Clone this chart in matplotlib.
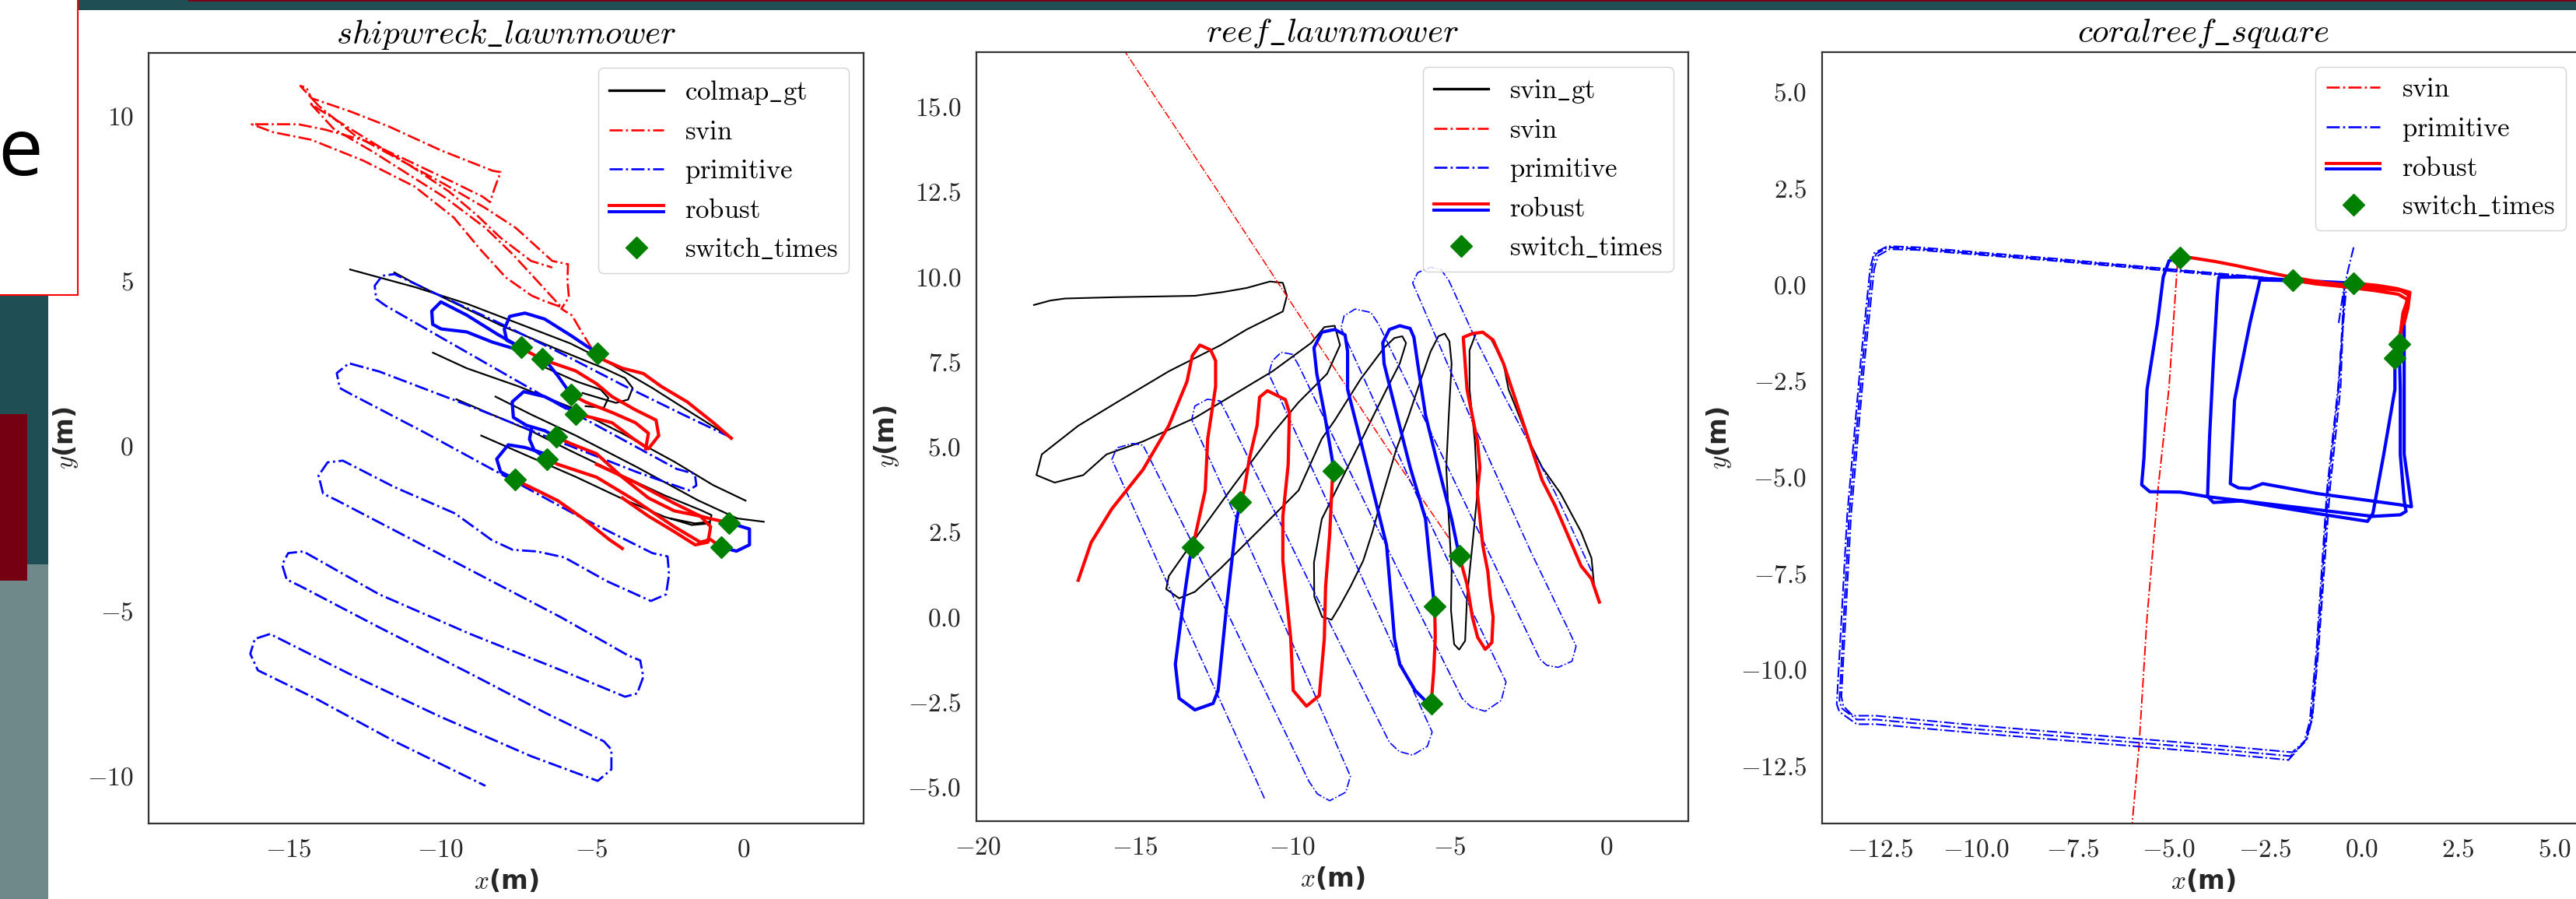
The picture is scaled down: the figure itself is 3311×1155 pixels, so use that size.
import numpy as np
import matplotlib
matplotlib.use("Agg")
import matplotlib.pyplot as plt
from matplotlib.lines import Line2D
from matplotlib.legend_handler import HandlerBase
from matplotlib.patches import Rectangle

plt.rcParams['font.family'] = 'serif'
plt.rcParams['font.serif'] = ['cmr10']
plt.rcParams['mathtext.fontset'] = 'cm'
plt.rcParams['axes.formatter.use_mathtext'] = True
plt.rcParams['axes.unicode_minus'] = True

# ---------------- shipwreck_lawnmower (x, y in m) ----------------
ship_gt = [
    [(-12.96, 5.34), (-11.8, 5.05), (-10.8, 4.8), (-9.1, 4.3), (-7.4, 3.7), (-5.7, 3.1),
     (-4.4, 2.5), (-3.0, 1.75), (-1.8, 1.05), (-0.5, 0.3)],
    [(-11.5, 5.25), (-11.0, 5.0), (-9.8, 4.45), (-8.0, 3.65), (-6.2, 2.95), (-4.6, 2.35),
     (-3.9, 2.05), (-3.65, 1.75), (-3.8, 1.4), (-4.2, 1.3), (-5.3, 1.6)],
    [(-10.23, 2.82), (-9.12, 2.35), (-7.41, 1.8), (-5.7, 1.17), (-4.0, 0.38), (-2.28, -0.48),
     (-1.0, -1.19), (0.07, -1.66)],
    [(-9.46, 1.41), (-8.27, 0.94), (-7.0, 0.45), (-5.7, -0.15), (-4.0, -0.9), (-2.6, -1.5),
     (-1.4, -1.95), (-1.05, -2.1), (-1.1, -2.3), (-1.6, -2.35), (-2.4, -2.2)],
    [(-8.17, 1.49), (-7.0, 0.95), (-5.5, 0.3), (-3.5, -0.65), (-1.5, -1.65), (-0.2, -2.2), (0.67, -2.3)],
    [(-8.64, 0.31), (-7.0, -0.35), (-5.5, -0.95), (-4.0, -1.6), (-2.6, -2.15), (-1.7, -2.4), (-1.1, -2.35)],
    [(-6.6, 2.4), (-5.5, 1.95), (-4.7, 1.7), (-4.45, 1.45), (-4.6, 1.15), (-5.2, 1.2)],
]
ship_svin = [
    (-5.0, 2.95), (-5.3, 3.4), (-5.65, 3.95), (-6.0, 4.15), (-5.75, 4.5), (-5.8, 5.0), (-5.78, 5.5),
    (-6.3, 5.6), (-6.9, 6.1), (-7.5, 6.6), (-8.5, 7.2), (-9.8, 7.9), (-11.2, 8.6), (-12.8, 9.4),
    (-14.0, 10.3), (-14.6, 10.9), (-14.4, 10.85), (-14.24, 10.53), (-12.96, 10.13), (-11.68, 9.67),
    (-9.97, 8.95), (-8.26, 8.33), (-8.0, 8.29), (-8.2, 7.8), (-8.35, 7.38), (-8.6, 7.55), (-9.6, 8.0),
    (-11.2, 8.7), (-12.5, 9.25), (-13.8, 9.58), (-14.67, 9.74), (-16.2, 9.74), (-15.5, 9.5),
    (-14.24, 9.27), (-12.53, 8.64), (-10.83, 7.85), (-9.54, 6.91), (-8.69, 5.97), (-7.83, 5.1),
    (-6.98, 4.55), (-6.6, 4.4), (-6.0, 4.2), (-6.7, 4.9), (-7.6, 5.8), (-8.5, 6.6), (-9.8, 7.5),
    (-11.0, 8.2), (-12.2, 8.9), (-13.5, 9.6), (-14.3, 10.4), (-14.0, 10.2), (-12.6, 9.4), (-11.0, 8.5),
    (-9.7, 7.7), (-8.8, 7.0), (-8.0, 6.3), (-7.0, 5.6), (-6.3, 5.4),
]
ship_prim = [
    (-0.4, 0.25), (-2.0, 0.95), (-4.0, 1.85), (-6.0, 2.8), (-8.0, 3.7), (-10.0, 4.55), (-11.5, 5.2),
    (-11.9, 5.15), (-12.15, 4.85), (-12.1, 4.45), (-11.8, 4.25), (-10.0, 3.3), (-8.0, 2.25),
    (-6.0, 1.2), (-4.0, 0.2), (-2.2, -0.7), (-1.6, -0.85), (-1.55, -1.2), (-1.8, -1.35), (-3.5, -0.8),
    (-6.0, 0.1), (-9.0, 1.2), (-12.0, 2.25), (-13.0, 2.5), (-13.4, 2.2), (-13.3, 1.75), (-12.9, 1.55),
    (-10.5, 0.4), (-8.0, -0.85), (-5.5, -2.1), (-3.0, -3.25), (-2.5, -3.35), (-2.45, -3.9),
    (-2.55, -4.5), (-3.05, -4.7), (-4.5, -4.1), (-5.9, -3.38), (-6.8, -3.2), (-7.6, -3.15),
    (-8.3, -2.85), (-9.5, -2.05), (-11.5, -1.25), (-13.2, -0.45), (-13.7, -0.5), (-14.0, -0.9),
    (-13.85, -1.45), (-13.4, -1.65), (-11.0, -2.8), (-8.5, -4.0), (-6.0, -5.2), (-3.8, -6.35),
    (-3.4, -6.5), (-3.3, -7.0), (-3.5, -7.5), (-3.9, -7.6), (-6.0, -6.8), (-9.0, -5.7), (-12.0, -4.5),
    (-14.5, -3.2), (-15.0, -3.25), (-15.2, -3.6), (-15.05, -4.05), (-14.6, -4.25), (-12.0, -5.5),
    (-9.0, -6.9), (-6.5, -8.1), (-4.6, -8.95), (-4.35, -9.2), (-4.35, -9.8), (-4.8, -10.15),
    (-7.0, -9.4), (-10.0, -8.2), (-13.0, -6.9), (-15.6, -5.7), (-16.1, -5.85), (-16.25, -6.3),
    (-16.0, -6.8), (-14.0, -7.7), (-11.5, -8.95), (-8.5, -10.3),
]
ship_rob_red = [
    [(-4.8, 2.81), (-4.58, 2.59), (-3.99, 2.35), (-3.3, 2.19), (-2.71, 1.8), (-1.85, 1.33),
     (-0.99, 0.7), (-0.4, 0.23)],
    [(-7.32, 2.97), (-7.0, 2.8), (-6.64, 2.63), (-6.29, 2.51), (-5.53, 2.27), (-4.84, 1.88),
     (-4.33, 1.49), (-3.56, 1.09), (-2.88, 0.78), (-2.79, 0.31), (-3.13, -0.09), (-3.65, 0.23),
     (-4.33, 0.7), (-5.01, 0.86), (-5.53, 0.97)],
    [(-5.69, 1.56), (-5.19, 1.32), (-4.33, 1.01), (-3.56, 0.7), (-3.13, 0.38), (-3.22, -0.09)],
    [(-6.17, 0.27), (-5.7, 0.07), (-4.84, -0.24), (-3.99, -0.95), (-3.13, -1.58), (-2.28, -1.97),
     (-1.42, -2.13), (-1.08, -2.21), (-0.48, -2.33)],
    [(-6.47, -0.4), (-6.12, -0.56), (-4.84, -0.95), (-3.56, -1.66), (-2.28, -2.45), (-1.42, -2.92),
     (-1.08, -2.84), (-0.74, -3.07)],
    [(-4.84, -0.56), (-3.56, -1.11), (-2.28, -1.74), (-1.42, -2.13), (-1.08, -2.45), (-1.17, -2.92),
     (-1.59, -3.0), (-2.28, -2.6), (-3.13, -2.13), (-3.99, -1.58)],
    [(-7.53, -1.03), (-6.98, -1.27), (-6.12, -1.66), (-5.27, -2.21), (-4.42, -2.84), (-3.99, -3.11)],
]
ship_rob_blue = [
    [(-7.32, 2.97), (-7.58, 2.95), (-8.27, 3.14), (-9.12, 3.45), (-9.96, 3.54), (-10.24, 3.68),
     (-10.27, 4.08), (-9.97, 4.36), (-9.12, 3.96), (-8.09, 3.37), (-7.32, 2.97)],
    [(-7.32, 2.97), (-7.8, 3.2), (-7.88, 3.53), (-7.7, 3.92), (-7.2, 4.02), (-6.55, 3.84),
     (-5.7, 3.35), (-5.1, 2.98), (-4.8, 2.81)],
    [(-6.64, 2.63), (-6.4, 2.45), (-6.1, 2.1), (-5.87, 1.8), (-5.69, 1.56)],
    [(-5.53, 0.97), (-5.69, 1.09), (-6.55, 1.49), (-7.24, 1.64), (-7.62, 1.33), (-7.58, 0.86),
     (-7.15, 0.62), (-6.55, 0.46), (-6.17, 0.27)],
    [(-6.98, 0.54), (-7.05, 0.2), (-6.9, -0.12), (-6.47, -0.4)],
    [(-6.55, -0.24), (-7.2, -0.05), (-7.75, 0.03), (-8.13, -0.4), (-8.0, -0.79), (-7.66, -0.95),
     (-7.53, -1.03)],
    [(-0.48, -2.33), (0.2, -2.52), (0.2, -3.0), (-0.23, -3.19), (-0.74, -3.07)],
]
ship_switch_x = [-7.32, -6.64, -4.80, -5.69, -5.53, -6.17, -6.47, -7.53, -0.48, -0.74]
ship_switch_y = [2.98, 2.63, 2.81, 1.56, 0.97, 0.27, -0.40, -1.03, -2.33, -3.07]

# ---------------- reef_lawnmower ----------------
reef_gt = [
    (-18.22, 9.17), (-17.7, 9.3), (-17.23, 9.36), (-16.4, 9.38), (-15.58, 9.4), (-14.3, 9.42),
    (-13.1, 9.44), (-12.2, 9.55), (-11.45, 9.67), (-10.71, 9.86), (-10.3, 9.82), (-10.17, 9.44),
    (-10.3, 8.98), (-11.45, 8.45), (-12.28, 7.99), (-13.93, 7.22), (-15.58, 6.31), (-16.81, 5.62),
    (-17.97, 4.78), (-18.14, 4.17), (-17.56, 3.95), (-16.65, 4.17), (-15.91, 4.78), (-14.75, 5.16),
    (-13.1, 5.85), (-11.86, 6.54), (-10.63, 7.22), (-9.39, 8.06), (-8.98, 8.52), (-8.65, 8.56),
    (-8.48, 7.99), (-8.89, 7.15), (-9.8, 6.31), (-10.63, 5.39), (-11.86, 3.87), (-12.94, 2.5),
    (-13.93, 1.2), (-14.01, 0.82), (-13.6, 0.55), (-13.1, 0.74), (-12.28, 1.43), (-11.04, 2.57),
    (-9.8, 3.72), (-9.06, 5.24), (-8.65, 5.78), (-7.82, 7.0), (-7.08, 7.91), (-6.75, 8.2),
    (-6.5, 8.25), (-6.38, 8.05), (-6.58, 7.45), (-7.0, 6.69), (-7.41, 5.93), (-7.82, 5.16),
    (-8.24, 4.4), (-8.65, 3.64), (-9.06, 2.88), (-9.31, 1.6), (-9.3, 0.6), (-9.05, 0.0),
    (-8.75, -0.08), (-8.5, 0.3), (-8.15, 0.89), (-7.74, 1.66), (-7.45, 2.5), (-7.15, 3.5),
    (-6.7, 4.9), (-6.3, 5.9), (-5.9, 7.0), (-5.6, 7.8), (-5.35, 8.25), (-5.15, 8.33), (-5.0, 8.1),
    (-4.93, 7.45), (-5.02, 5.93), (-5.1, 4.4), (-5.02, 2.88), (-4.93, 1.35), (-4.95, 0.2),
    (-4.85, -0.8), (-4.69, -0.96), (-4.5, -0.7), (-4.44, 0.59), (-4.27, 2.11), (-4.11, 3.64),
    (-4.19, 5.16), (-4.36, 6.69), (-4.36, 7.84), (-4.15, 8.35), (-3.9, 8.35), (-3.7, 8.22),
    (-3.28, 7.45), (-3.12, 6.69), (-2.79, 5.93), (-2.46, 5.16), (-2.05, 4.4), (-1.47, 3.64),
    (-0.81, 2.5), (-0.48, 1.73), (-0.4, 0.97),
]
reef_svin = [(-15.6, 17.0), (-12.5, 12.7), (-9.3, 8.2), (-7.0, 5.0), (-5.0, 2.3)]
reef_prim = [
    (-0.48, 1.35), (-1.63, 3.64), (-3.28, 6.54), (-4.27, 8.37), (-5.02, 9.89), (-5.26, 10.2),
    (-5.59, 10.28), (-6.01, 10.12), (-6.17, 9.82), (-4.3, 5.8), (-2.4, 1.9), (-1.2, -0.4),
    (-0.97, -0.86), (-1.1, -1.3), (-1.54, -1.48), (-1.9, -1.42), (-2.12, -1.24), (-5.0, 4.3),
    (-7.25, 8.6), (-7.5, 8.95), (-8.0, 9.05), (-8.35, 8.85), (-8.45, 8.5), (-6.0, 3.5),
    (-3.2, -1.91), (-3.35, -2.45), (-3.86, -2.77), (-4.3, -2.65), (-4.6, -2.39), (-7.5, 3.0),
    (-9.8, 7.4), (-10.0, 7.72), (-10.35, 7.78), (-10.63, 7.53), (-10.75, 7.15), (-8.0, 1.6),
    (-5.55, -3.38), (-5.7, -3.8), (-6.17, -4.06), (-6.6, -3.95), (-6.91, -3.68), (-9.5, 1.1),
    (-12.1, 6.0), (-12.3, 6.35), (-12.7, 6.4), (-13.1, 6.2), (-13.2, 5.8), (-10.6, 0.5),
    (-8.15, -4.68), (-8.3, -5.15), (-8.81, -5.4), (-9.2, -5.2), (-9.47, -4.83), (-12.0, 0.0),
    (-14.6, 4.78), (-14.75, 5.05), (-15.08, 5.1), (-15.58, 4.97), (-15.74, 4.63), (-13.3, -0.4),
    (-10.87, -5.36),
]
reef_rob_red = [
    [(-16.81, 1.08), (-16.4, 2.19), (-15.74, 3.18), (-14.75, 4.33), (-13.93, 5.62), (-13.35, 6.92),
     (-13.18, 7.68), (-12.94, 7.99), (-12.6, 7.85), (-12.44, 7.53), (-12.44, 6.77), (-12.69, 5.24),
     (-12.77, 3.72), (-13.1, 2.34), (-13.18, 2.05)],
    [(-11.66, 3.37), (-11.53, 3.72), (-11.37, 4.63), (-11.12, 5.62), (-11.04, 6.46), (-10.79, 6.65),
     (-10.22, 6.39), (-10.09, 6.0), (-10.13, 4.48), (-10.3, 2.95), (-10.3, 1.66), (-10.05, -0.63),
     (-9.97, -2.16), (-9.55, -2.62), (-9.14, -2.31), (-8.98, -0.63), (-8.94, 0.89), (-8.81, 2.42),
     (-8.73, 3.95), (-8.69, 4.29)],
    [(-5.47, 0.32), (-5.45, -0.6), (-5.5, -1.6), (-5.58, -2.54)],
    [(-4.69, 1.81), (-4.44, 0.96), (-4.27, 0.0), (-4.1, -0.6), (-3.86, -0.95), (-3.65, -0.75),
     (-3.61, 0.0), (-3.7, 0.59), (-3.78, 1.35), (-3.94, 2.11), (-4.11, 3.64), (-4.03, 4.4),
     (-4.11, 5.16), (-4.44, 6.69), (-4.56, 8.22), (-4.27, 8.33), (-3.94, 8.37), (-3.61, 8.14),
     (-3.28, 7.45), (-2.87, 6.31), (-2.46, 5.16), (-2.05, 4.02), (-1.63, 3.26), (-0.81, 1.5),
     (-0.48, 1.12), (-0.23, 0.44)],
]
reef_rob_blue = [
    [(-13.18, 2.05), (-13.27, 1.66), (-13.51, 0.13), (-13.72, -1.39), (-13.6, -2.39), (-13.1, -2.73),
     (-12.52, -2.54), (-12.36, -2.16), (-12.11, 0.13), (-11.78, 2.8), (-11.66, 3.37)],
    [(-8.69, 4.29), (-8.73, 4.63), (-8.98, 6.0), (-9.22, 7.15), (-9.31, 7.91), (-9.06, 8.37),
     (-8.65, 8.45), (-8.32, 8.29), (-8.24, 7.8), (-8.24, 6.69), (-7.82, 5.16), (-7.41, 3.64),
     (-7.0, 2.11), (-6.83, 0.28), (-6.75, -0.63), (-6.58, -1.39), (-6.09, -2.16), (-5.68, -2.54),
     (-5.58, -2.54)],
    [(-5.47, 0.32), (-5.51, 0.59), (-5.76, 2.88), (-6.25, 4.4), (-6.67, 5.93), (-7.08, 7.45),
     (-7.12, 8.06), (-6.91, 8.45), (-6.58, 8.56), (-6.25, 8.48), (-6.13, 8.22), (-6.01, 7.45),
     (-5.76, 5.93), (-5.35, 4.4), (-4.93, 2.88), (-4.69, 1.81)],
]
reef_switch_x = [-13.18, -11.66, -8.69, -4.69, -5.47, -5.58]
reef_switch_y = [2.05, 3.37, 4.29, 1.81, 0.32, -2.54]

# ---------------- coralreef_square ----------------
coral_svin = [(-4.78, 0.58), (-5.0, -2.67), (-5.28, -5.26), (-5.57, -8.64), (-5.78, -12.02), (-6.0, -14.5)]
coral_prim = [
    (-0.21, 0.97), (-0.35, 0.4), (-0.45, -0.05), (-0.6, -2.7), (-0.87, -5.3), (-1.15, -9.5),
    (-1.3, -11.3), (-1.45, -11.85), (-1.85, -12.25), (-4.0, -12.05), (-7.0, -11.8), (-10.0, -11.55),
    (-12.6, -11.3), (-13.1, -11.3), (-13.5, -11.0), (-13.55, -10.8), (-13.3, -6.0), (-12.95, -2.0),
    (-12.7, 0.45), (-12.6, 0.8), (-12.28, 0.97), (-11.5, 0.93), (-8.0, 0.65), (-4.7, 0.36),
    (-2.0, 0.12), (-0.45, -0.02), (-0.55, -2.7), (-0.82, -5.25), (-1.12, -9.45), (-1.28, -11.25),
    (-1.42, -11.8), (-1.8, -12.15), (-4.0, -11.95), (-7.0, -11.7), (-10.0, -11.45), (-12.6, -11.2),
    (-13.2, -11.2), (-13.45, -10.95), (-13.5, -10.7), (-13.25, -6.0), (-12.9, -2.0), (-12.65, 0.4),
    (-12.55, 0.75), (-12.25, 0.92), (-11.5, 0.9), (-8.0, 0.62), (-4.7, 0.33), (-2.0, 0.1),
    (-0.4, -0.06), (-0.62, -2.72), (-0.9, -5.3), (-1.18, -9.55), (-1.35, -11.35), (-1.5, -11.9),
    (-1.9, -12.35), (-4.0, -12.15), (-7.0, -11.9), (-10.0, -11.65), (-12.6, -11.42), (-13.1, -11.42),
    (-13.55, -11.1), (-13.62, -10.9), (-13.35, -6.0), (-13.0, -2.0), (-12.75, 0.45), (-12.65, 0.82),
    (-12.3, 1.0), (-11.5, 0.97), (-8.0, 0.68), (-4.7, 0.38), (-2.0, 0.14), (-0.45, 0.0), (-0.6, -1.0),
]
coral_rob_red = [
    [(-4.71, 0.7), (-4.43, 0.7), (-3.8, 0.6), (-3.28, 0.5), (-2.57, 0.35), (-2.0, 0.23), (-1.4, 0.12),
     (-0.85, 0.04), (0.29, -0.08), (1.0, -0.15), (1.22, -0.27), (1.15, -0.5), (1.07, -0.73),
     (1.0, -1.28), (0.97, -1.55)],
    [(-1.78, 0.12), (-1.2, 0.02), (-0.5, -0.05), (0.3, -0.15), (0.95, -0.25), (1.2, -0.4), (1.1, -0.8),
     (1.0, -1.3), (0.86, -1.9)],
    [(-0.21, 0.04), (0.4, -0.02), (0.9, -0.1), (1.25, -0.2), (1.2, -0.6), (1.1, -1.0)],
]
coral_rob_blue = [
    [(0.97, -1.55), (1.0, -2.72), (1.0, -4.41), (1.1, -5.6), (1.15, -5.89), (1.0, -5.98), (0.29, -6.02),
     (-1.14, -5.85), (-2.57, -5.68), (-4.0, -5.51), (-4.71, -5.39), (-5.5, -5.38), (-5.71, -5.2),
     (-5.65, -4.5), (-5.57, -2.72), (-5.3, -1.0), (-5.15, 0.2), (-5.0, 0.62), (-4.71, 0.7)],
    [(0.86, -1.9), (0.86, -2.72), (0.57, -4.41), (0.29, -5.94), (0.15, -6.15), (-1.14, -5.95),
     (-3.14, -5.62), (-3.85, -5.66), (-4.0, -5.5), (-3.95, -4.0), (-3.85, -2.0), (-3.75, -0.3),
     (-3.71, 0.19), (-3.0, 0.2), (-2.4, 0.15), (-1.78, 0.12)],
    [(1.1, -1.0), (1.1, -2.72), (1.1, -4.4), (1.22, -5.26), (1.29, -5.77), (1.0, -5.72), (-1.14, -5.43),
     (-2.57, -5.17), (-2.9, -5.3), (-3.2, -5.28), (-3.41, -5.17), (-3.3, -3.0), (-2.9, -1.0),
     (-2.64, 0.12), (-1.5, 0.1), (-0.21, 0.04)],
]
coral_switch_x = [-4.71, -1.78, -0.21, 0.97, 0.86]
coral_switch_y = [0.70, 0.12, 0.04, -1.55, -1.90]


def path(points):
    a = np.array(points, dtype=float)
    return a[:, 0], a[:, 1]


def segments(parts):
    xs, ys = [], []
    for p in parts:
        x, y = path(p)
        xs += list(x) + [np.nan]
        ys += list(y) + [np.nan]
    return xs, ys


class DoubleLine(HandlerBase):
    def create_artists(self, legend, orig_handle, xdescent, ydescent,
                       width, height, fontsize, trans):
        y = height / 2 - ydescent
        xs = [-xdescent, width - xdescent]
        top = Line2D(xs, [y + 2.7] * 2, color='red', lw=2.8, transform=trans)
        bot = Line2D(xs, [y - 2.7] * 2, color='blue', lw=2.8, transform=trans)
        return [top, bot]


W, H = 3311, 1155
fig = plt.figure(figsize=(W / 100, H / 100), dpi=100)
fig.patch.set_facecolor('white')


def px_rect(x, y, w, h, **kw):
    fig.patches.append(Rectangle((x / W, 1 - (y + h) / H), w / W, h / H,
                                 transform=fig.transFigure, figure=fig, **kw))


# slide background pieces around the screenshot
px_rect(100, 0, 3211, 13, facecolor='#1f4e55', lw=0)
px_rect(242, 0, 3069, 2, facecolor='#7a0016', lw=0)
px_rect(0, 379, 62, 346, facecolor='#1f4e55', lw=0)
px_rect(0, 725, 62, 430, facecolor='#6f898a', lw=0)
px_rect(0, 532, 35, 214, facecolor='#740012', lw=0)
px_rect(-10, -10, 110, 389, facecolor='white', edgecolor='red', lw=1.5)
fig.text(-3 / W, 1 - 225 / H, 'e', ha='left', va='baseline', fontsize=74,
         family='Open Sans', color='black')

ax1 = fig.add_axes([191 / W, 1 - 1058 / H, 919 / W, 990 / H])
ax2 = fig.add_axes([1255 / W, 1 - 1055 / H, 915 / W, 988 / H])
ax3 = fig.add_axes([2342 / W, 1 - 1058 / H, 980 / W, 991 / H])

RW = 3.0
DIA = dict(marker='D', ms=14, color='green', ls='none')

# shipwreck
x, y = segments(ship_gt)
ax1.plot(x, y, color='black', lw=1.6)
x, y = path(ship_svin)
ax1.plot(x, y, color='red', ls='-.', lw=1.9)
x, y = path(ship_prim)
ax1.plot(x, y, color='blue', ls='-.', lw=2.0)
x, y = segments(ship_rob_blue)
ax1.plot(x, y, color='blue', lw=RW)
x, y = segments(ship_rob_red)
ax1.plot(x, y, color='red', lw=RW)
ax1.plot(ship_switch_x, ship_switch_y, **DIA)

# reef
x, y = path(reef_gt)
ax2.plot(x, y, color='black', lw=1.5)
x, y = path(reef_svin)
ax2.plot(x, y, color='red', ls='-.', lw=1.1)
x, y = path(reef_prim)
ax2.plot(x, y, color='blue', ls='-.', lw=1.2)
x, y = segments(reef_rob_blue)
ax2.plot(x, y, color='blue', lw=RW)
x, y = segments(reef_rob_red)
ax2.plot(x, y, color='red', lw=RW)
ax2.plot(reef_switch_x, reef_switch_y, **DIA)

# coral
x, y = path(coral_svin)
ax3.plot(x, y, color='red', ls='-.', lw=1.4)
x, y = path(coral_prim)
ax3.plot(x, y, color='blue', ls='-.', lw=1.5)
x, y = segments(coral_rob_blue)
ax3.plot(x, y, color='blue', lw=RW)
x, y = segments(coral_rob_red)
ax3.plot(x, y, color='red', lw=RW)
ax3.plot(coral_switch_x, coral_switch_y, **DIA)

ax1.set_xlim(-19.6, 3.96)
ax1.set_ylim(-11.44, 11.9)
ax1.set_xticks([-15, -10, -5, 0])
ax1.set_yticks([-10, -5, 0, 5, 10])
ax2.set_xlim(-20.05, 2.6)
ax2.set_ylim(-6.0, 16.6)
ax2.set_xticks([-20, -15, -10, -5, 0])
ax2.set_yticks(np.arange(-5, 15.1, 2.5))
ax3.set_xlim(-14.0, 5.78)
ax3.set_ylim(-14.0, 6.04)
ax3.set_xticks(np.arange(-12.5, 5.1, 2.5))
ax3.set_yticks(np.arange(-12.5, 5.1, 2.5))

titles = [r'$shipwreck\_lawnmower$', r'$reef\_lawnmower$', r'$coralreef\_square$']
for ax, t in zip([ax1, ax2, ax3], titles):
    ax.set_facecolor('white')
    for s in ax.spines.values():
        s.set_color('.2')
        s.set_linewidth(1.6)
    ax.tick_params(length=0, labelsize=24, colors='.15', pad=14)
    ax.set_title(t, fontsize=31, pad=9)
    ax.set_xlabel(r'$x$(m)', fontsize=24, family='DejaVu Sans', fontweight='bold',
                  color='.15', labelpad=6)
    ax.set_ylabel(r'$y$(m)', fontsize=24, family='DejaVu Sans', fontweight='bold',
                  color='.15', labelpad=6)

robust = Line2D([], [])
svin_h = Line2D([], [], color='red', ls='-.', lw=1.9)
prim_h = Line2D([], [], color='blue', ls='-.', lw=1.9)
gt_h = Line2D([], [], color='black', lw=2.4)
sw_h = Line2D([], [], **DIA)
leg_kw = dict(fontsize=25, frameon=True, fancybox=True, framealpha=0.85,
              edgecolor='0.8', handler_map={robust: DoubleLine()})

ax1.legend([gt_h, svin_h, prim_h, robust, sw_h],
           [r'$\mathrm{colmap\_gt}$', r'$\mathrm{svin}$', r'$\mathrm{primitive}$',
            r'$\mathrm{robust}$', r'$\mathrm{switch\_times}$'],
           loc='upper right', borderaxespad=0.55, **leg_kw)
ax2.legend([gt_h, svin_h, prim_h, robust, sw_h],
           [r'$\mathrm{svin\_gt}$', r'$\mathrm{svin}$', r'$\mathrm{primitive}$',
            r'$\mathrm{robust}$', r'$\mathrm{switch\_times}$'],
           loc='upper right', borderaxespad=0.55, **leg_kw)
ax3.legend([svin_h, prim_h, robust, sw_h],
           [r'$\mathrm{svin}$', r'$\mathrm{primitive}$', r'$\mathrm{robust}$',
            r'$\mathrm{switch\_times}$'],
           loc='upper left', bbox_to_anchor=(0.647, 0.981), borderaxespad=0, **leg_kw)

fig.savefig('out.png', dpi=100)
